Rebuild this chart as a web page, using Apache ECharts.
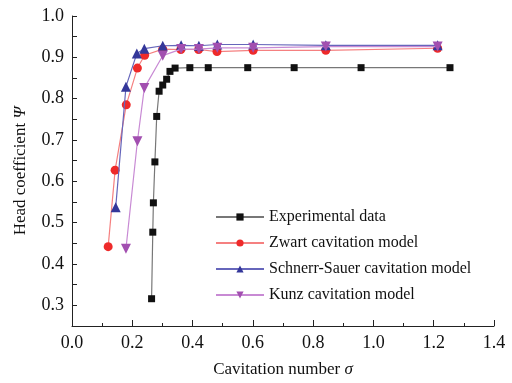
<!DOCTYPE html>
<html>
<head>
<meta charset="utf-8">
<script src="https://cdn.jsdelivr.net/npm/echarts@6/dist/echarts.min.js"></script>
<style>
  html, body { margin: 0; padding: 0; background: #fff; }
  #chart { width: 512px; height: 383px; }
</style>
</head>
<body>
<div id="chart"></div>
<script>
// 数据：值
const expX = [0.264, 0.268, 0.270, 0.275, 0.281, 0.289, 0.301, 0.314, 0.325, 0.342, 0.391, 0.452, 0.583, 0.737, 0.959, 1.254]
const expY = [0.316, 0.477, 0.548, 0.647, 0.757, 0.818, 0.833, 0.847, 0.866, 0.874, 0.875, 0.875, 0.875, 0.875, 0.875, 0.875]

const zwartX = [0.120, 0.143, 0.180, 0.217, 0.241, 0.301, 0.361, 0.420, 0.481, 0.601, 0.842, 1.213]
const zwartY = [0.442, 0.627, 0.785, 0.874, 0.905, 0.920, 0.919, 0.919, 0.914, 0.917, 0.917, 0.922]

const ssX = [0.145, 0.179, 0.215, 0.240, 0.301, 0.362, 0.421, 0.482, 0.601, 0.842, 1.213]
const ssY = [0.537, 0.829, 0.909, 0.921, 0.928, 0.929, 0.928, 0.931, 0.931, 0.929, 0.929]

const kunzX = [0.179, 0.217, 0.240, 0.301, 0.362, 0.421, 0.482, 0.601, 0.842, 1.213]
const kunzY = [0.437, 0.697, 0.826, 0.904, 0.920, 0.920, 0.923, 0.923, 0.926, 0.926]

const seriesNames = ['Experimental data', 'Zwart cavitation model', 'Schnerr-Sauer cavitation model', 'Kunz cavitation model']

const pair = (xs, ys) => xs.map((x, i) => [x, ys[i]])

const myChart = echarts.init(document.getElementById('chart'))

const font = 'Liberation Serif'

const option = {
  animation: false,
  textStyle: { fontFamily: font, color: '#111' },
  grid: { left: 72, right: 18, top: 16, bottom: 51 },
  legend: {
    orient: 'vertical',
    left: 210,
    top: 204,
    itemWidth: 48,
    itemHeight: 9,
    itemGap: 10,
    data: seriesNames,
    textStyle: { fontFamily: font, fontSize: 16, color: '#111' }
  },
  xAxis: {
    type: 'value',
    min: 0,
    max: 1.4,
    interval: 0.2,
    name: 'Cavitation number {i|σ}',
    nameLocation: 'middle',
    nameGap: 35,
    nameTextStyle: {
      fontFamily: font, fontSize: 17, color: '#111',
      rich: { i: { fontFamily: font, fontStyle: 'italic', fontSize: 17, color: '#111' } }
    },
    axisLine: { show: true, lineStyle: { color: '#222', width: 1 } },
    axisTick: { show: true, inside: true, length: 6, lineStyle: { color: '#222' } },
    minorTick: { show: true, splitNumber: 2, length: 3, lineStyle: { color: '#222' } },
    axisLabel: {
      fontSize: 18, color: '#111', margin: 8,
      formatter: v => v.toFixed(1)
    },
    splitLine: { show: false }
  },
  yAxis: {
    type: 'value',
    min: 0.25,
    max: 1.0,
    interval: 0.05,
    name: 'Head coefficient {i|Ψ}',
    nameLocation: 'middle',
    nameGap: 43,
    nameTextStyle: {
      fontFamily: font, fontSize: 17, color: '#111',
      rich: { i: { fontFamily: font, fontStyle: 'italic', fontSize: 17, color: '#111' } }
    },
    axisLine: { show: true, lineStyle: { color: '#222', width: 1 } },
    axisTick: { show: true, inside: true, length: 5, lineStyle: { color: '#222' } },
    axisLabel: {
      fontSize: 18, color: '#111', margin: 8,
      formatter: v => (Math.round(v * 100) % 10 === 0 ? v.toFixed(1) : '')
    },
    splitLine: { show: false }
  },
  series: [
    {
      name: seriesNames[0],
      type: 'line',
      data: pair(expX, expY),
      symbol: 'rect',
      symbolSize: 7,
      itemStyle: { color: '#111' },
      lineStyle: { color: '#777', width: 1.2 },
      z: 5
    },
    {
      name: seriesNames[1],
      type: 'line',
      data: pair(zwartX, zwartY),
      symbol: 'circle',
      symbolSize: 9,
      itemStyle: { color: '#ee2a2a' },
      lineStyle: { color: '#f58080', width: 1.2 },
      z: 2
    },
    {
      name: seriesNames[2],
      type: 'line',
      data: pair(ssX, ssY),
      symbol: 'triangle',
      symbolSize: 10,
      itemStyle: { color: '#34379a' },
      lineStyle: { color: '#6666bb', width: 1.2 },
      z: 3
    },
    {
      name: seriesNames[3],
      type: 'line',
      data: pair(kunzX, kunzY),
      symbol: 'triangle',
      symbolRotate: 180,
      symbolSize: 10,
      itemStyle: { color: '#a24fb0' },
      lineStyle: { color: '#c88ad4', width: 1.2 },
      z: 4
    }
  ]
}

myChart && myChart.setOption(option)
</script>
</body>
</html>
